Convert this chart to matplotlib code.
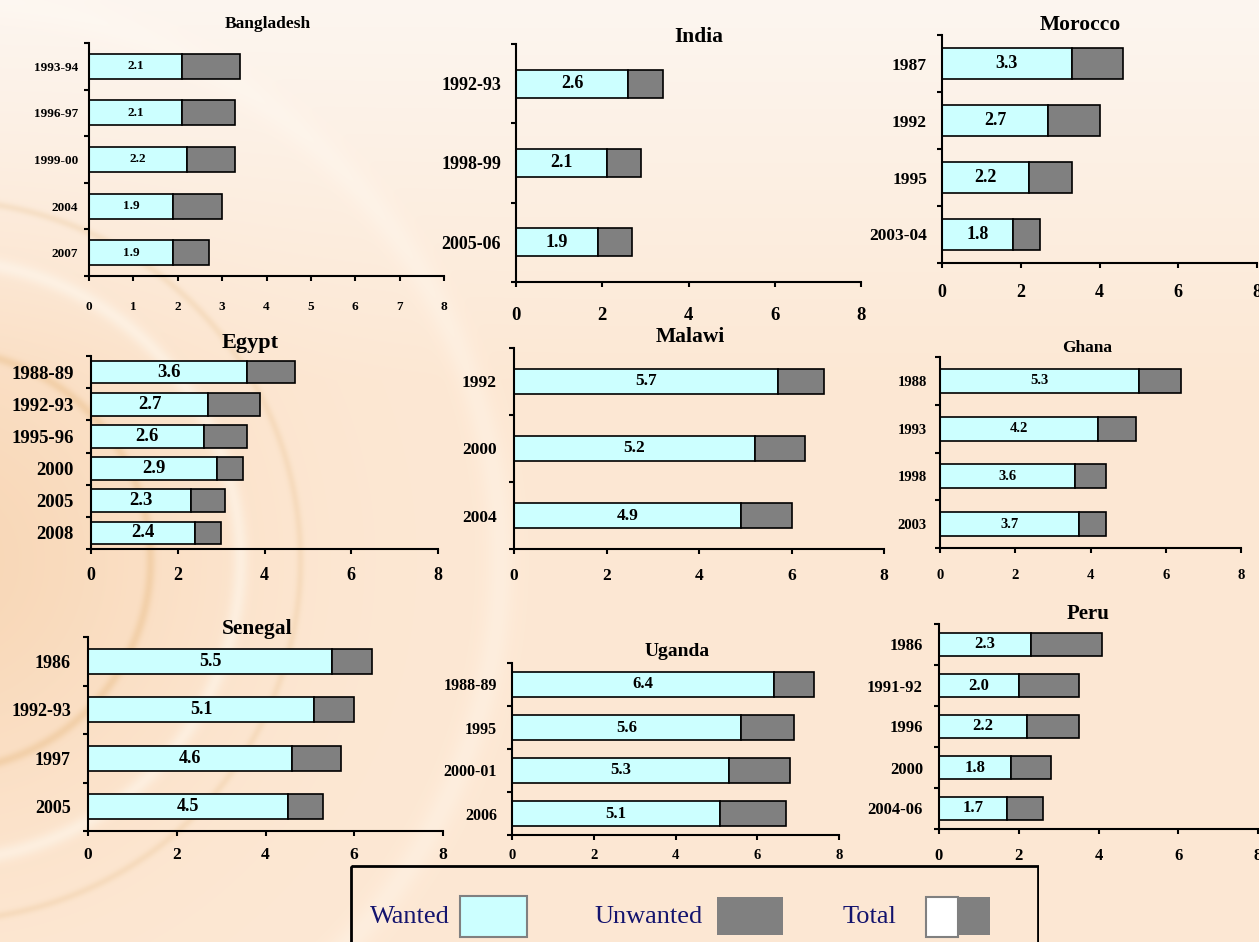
import numpy as np
import matplotlib.pyplot as plt
from matplotlib.patches import Rectangle

plt.rcParams['font.family'] = ['Liberation Serif', 'DejaVu Serif']
plt.rcParams['font.weight'] = 'bold'

# ---- data (total fertility: wanted part and total) ----
bangladesh_years = ["1993-94", "1996-97", "1999-00", "2004", "2007"]
bangladesh_wanted = [2.1, 2.1, 2.2, 1.9, 1.9]
bangladesh_total = [3.4, 3.3, 3.3, 3.0, 2.7]

india_years = ["1992-93", "1998-99", "2005-06"]
india_wanted = [2.6, 2.1, 1.9]
india_total = [3.4, 2.9, 2.7]

morocco_years = ["1987", "1992", "1995", "2003-04"]
morocco_wanted = [3.3, 2.7, 2.2, 1.8]
morocco_total = [4.6, 4.0, 3.3, 2.5]

egypt_years = ["1988-89", "1992-93", "1995-96", "2000", "2005", "2008"]
egypt_wanted = [3.6, 2.7, 2.6, 2.9, 2.3, 2.4]
egypt_total = [4.7, 3.9, 3.6, 3.5, 3.1, 3.0]

malawi_years = ["1992", "2000", "2004"]
malawi_wanted = [5.7, 5.2, 4.9]
malawi_total = [6.7, 6.3, 6.0]

ghana_years = ["1988", "1993", "1998", "2003"]
ghana_wanted = [5.3, 4.2, 3.6, 3.7]
ghana_total = [6.4, 5.2, 4.4, 4.4]

senegal_years = ["1986", "1992-93", "1997", "2005"]
senegal_wanted = [5.5, 5.1, 4.6, 4.5]
senegal_total = [6.4, 6.0, 5.7, 5.3]

uganda_years = ["1988-89", "1995", "2000-01", "2006"]
uganda_wanted = [6.4, 5.6, 5.3, 5.1]
uganda_total = [7.4, 6.9, 6.8, 6.7]

peru_years = ["1986", "1991-92", "1996", "2000", "2004-06"]
peru_wanted = [2.3, 2.0, 2.2, 1.8, 1.7]
peru_total = [4.1, 3.5, 3.5, 2.8, 2.6]

WANTED_COLOR = "#CCFFFF"
UNWANTED_COLOR = "#808080"

W, H = 1259, 942
fig = plt.figure(figsize=(W / 100, H / 100), dpi=100)

# ---- decorative background ----
bg = fig.add_axes([0, 0, 1, 1], zorder=-10)
yy, xx = np.mgrid[0:H, 0:W]
base = np.array([253, 232, 212]) / 255
top = np.array([253, 246, 240]) / 255
t = np.clip(yy / 380.0, 0, 1)[..., None]
img = top * (1 - t) + base * t
d = np.hypot(xx + 60, yy - 560)
glow = np.exp(-(d / 260.0) ** 2)[..., None]
img = img * (1 - 0.35 * glow) + np.array([240, 185, 130]) / 255 * 0.35 * glow
for r, col, a, w in [(210, (225, 175, 110), 0.3, 5), (300, (255, 255, 250), 0.4, 8),
                     (360, (225, 180, 120), 0.2, 4), (560, (255, 252, 245), 0.3, 14)]:
    ring = (a * np.exp(-((d - r) / w) ** 2))[..., None]
    img = img * (1 - ring) + np.array(col) / 255 * ring
bg.imshow(np.clip(img, 0, 1), extent=[0, W, H, 0], aspect='auto')
bg.set_xlim(0, W)
bg.set_ylim(H, 0)
bg.axis('off')


def px_axes(left, right, top_, bottom):
    return fig.add_axes([left / W, 1 - bottom / H, (right - left) / W, (bottom - top_) / H])


panels = [
    ("Bangladesh", bangladesh_years, bangladesh_wanted, bangladesh_total,
     dict(box=(89, 444, 43, 276), title=(268, 24, 12.5), ysize=9.5, xsize=9.5, bh=0.54, vsize=9.5,
          xlab=308, ylab=78, step=1)),
    ("India", india_years, india_wanted, india_total,
     dict(box=(516, 861, 44, 282), title=(699, 37, 15.5), ysize=13, xsize=13.5, bh=0.35, vsize=13,
          xlab=317, ylab=501, step=2)),
    ("Morocco", morocco_years, morocco_wanted, morocco_total,
     dict(box=(942, 1257, 35, 263), title=(1080, 25, 15.5), ysize=12.5, xsize=13, bh=0.55, vsize=13,
          xlab=294, ylab=927, step=2)),
    ("Egypt", egypt_years, egypt_wanted, egypt_total,
     dict(box=(91, 438, 356, 549), title=(250, 343, 16), ysize=13.5, xsize=13, bh=0.70, vsize=13.5,
          xlab=577, ylab=74, step=2)),
    ("Malawi", malawi_years, malawi_wanted, malawi_total,
     dict(box=(514, 884, 348, 549), title=(690, 337, 15.5), ysize=12.5, xsize=12.5, bh=0.36, vsize=12.5,
          xlab=578, ylab=497, step=2)),
    ("Ghana", ghana_years, ghana_wanted, ghana_total,
     dict(box=(940, 1241, 357, 548), title=(1087, 348, 12.5), ysize=10.5, xsize=10.5, bh=0.50, vsize=10.5,
          xlab=577, ylab=927, step=2)),
    ("Senegal", senegal_years, senegal_wanted, senegal_total,
     dict(box=(88, 443, 637, 831), title=(257, 629, 15.5), ysize=13, xsize=12.5, bh=0.51, vsize=13,
          xlab=857, ylab=71, step=2)),
    ("Uganda", uganda_years, uganda_wanted, uganda_total,
     dict(box=(512, 839, 663, 835), title=(677, 651, 14), ysize=11.5, xsize=10.5, bh=0.60, vsize=12,
          xlab=857, ylab=497, step=2)),
    ("Peru", peru_years, peru_wanted, peru_total,
     dict(box=(939, 1258, 624, 829), title=(1088, 614, 15), ysize=12, xsize=12, bh=0.58, vsize=12,
          xlab=857, ylab=923, step=2)),
]

PX = 100 / 72.0
TICK_LEN = 3.6

for name, years, wanted, total, st in panels:
    left, right, top_, bottom = st['box']
    ax = px_axes(left, right, top_, bottom)
    ax.patch.set_visible(False)
    n = len(years)
    pos = np.arange(n)
    unwanted = np.array(total) - np.array(wanted)
    ax.barh(pos, wanted, height=st['bh'], color=WANTED_COLOR, edgecolor='black', linewidth=1.2)
    ax.barh(pos, unwanted, left=wanted, height=st['bh'], color=UNWANTED_COLOR,
            edgecolor='black', linewidth=1.2)
    for p, w in zip(pos, wanted):
        ax.text(w / 2, p, f"{w:.1f}", ha='center', va='center', fontsize=st['vsize'],
                fontweight='bold')
    ax.set_xlim(0, 8)
    ax.set_ylim(n - 0.5, -0.5)
    ax.set_xticks(np.arange(0, 8.01, st['step']))
    ax.set_yticks(np.arange(n + 1) - 0.5)
    ax.set_yticklabels([])
    ax.set_yticks(pos, minor=True)
    ax.set_yticklabels(years, minor=True, fontsize=st['ysize'], fontweight='bold')
    ax.tick_params(axis='y', which='minor', length=0,
                   pad=(left - st['ylab']) / PX)
    ax.tick_params(axis='y', which='major', direction='out', length=TICK_LEN, width=1.5)
    xpad = (st['xlab'] - bottom) / PX - TICK_LEN - 0.55 * st['xsize']
    ax.tick_params(axis='x', direction='out', length=TICK_LEN, width=1.5,
                   labelsize=st['xsize'], pad=xpad)
    for lab in ax.get_xticklabels():
        lab.set_fontweight('bold')
    for s in ['top', 'right']:
        ax.spines[s].set_visible(False)
    for s in ['left', 'bottom']:
        ax.spines[s].set_linewidth(1.5)
    tx, ty, tsize = st['title']
    fig.text(tx / W, 1 - ty / H, name, ha='center', va='center', fontsize=tsize,
             fontweight='bold')

# ---- legend box ----
leg = fig.add_axes([350 / W, 0, (1039 - 350) / W, (H - 865) / H])
leg.set_xlim(350, 1039)
leg.set_ylim(H, 865)
leg.axis('off')
leg.add_patch(Rectangle((351, 866), 687, 90, facecolor='none', edgecolor='black', linewidth=2))
navy = "#14146E"
for label, x in [("Wanted", 370), ("Unwanted", 594), ("Total", 843)]:
    leg.text(x, 917, label, color=navy, fontsize=19, fontweight='normal', va='center')
leg.add_patch(Rectangle((460, 896), 67, 41, facecolor=WANTED_COLOR, edgecolor='#808080', linewidth=1.5))
leg.add_patch(Rectangle((717, 897), 66, 38, facecolor=UNWANTED_COLOR, edgecolor='none'))
leg.add_patch(Rectangle((958, 897), 32, 38, facecolor=UNWANTED_COLOR, edgecolor='none'))
leg.add_patch(Rectangle((926, 897), 32, 40, facecolor='white', edgecolor='#808080', linewidth=1.5))

fig.savefig("out.png", dpi=100)
